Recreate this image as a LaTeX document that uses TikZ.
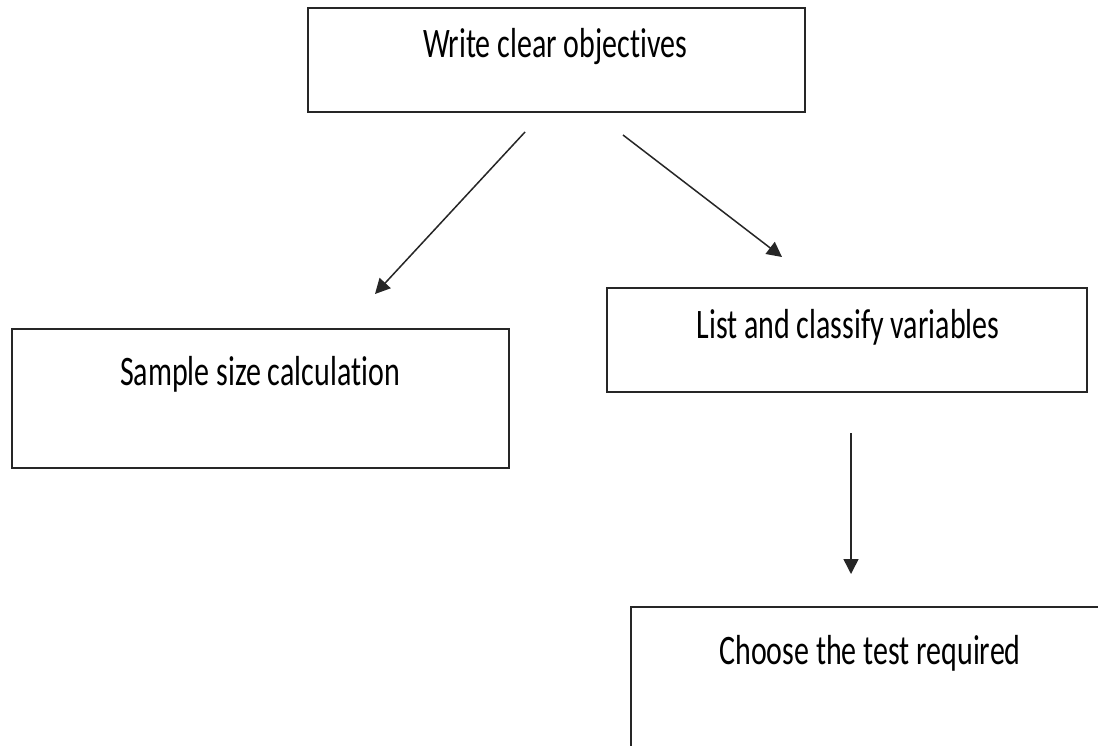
\documentclass[tikz,border=0pt]{standalone}
\usepackage{fontspec}
\setmainfont{Carlito}[Ligatures=NoCommon, RawFeature={-liga;-dlig;-clig}]
\usetikzlibrary{arrows.meta}
\tikzset{
  boxline/.style={line width=1.6pt, draw=black!85},
  lbl/.style={anchor=center, inner sep=0pt, font=\fontsize{30}{30}\selectfont},
  arr/.style={draw=black!85, line width=1.5pt, -{Triangle[length=15pt,width=15pt]}},
}
\newcommand{\tall}[1]{\scalebox{1}[1.4]{#1}}
\begin{document}
\begin{tikzpicture}[x=1pt,y=-1pt]
\useasboundingbox (0,0) rectangle (1098,745);
\clip (0,0) rectangle (1098,745);
\fill[white] (0,0) rectangle (1098,745);
% boxes
\draw[boxline] (308,8) rectangle (805,112);
\node (b1) at (556.5,60) {};
\draw[boxline] (12,329) rectangle (509,468);
\node (b2) at (260.5,398) {};
\draw[boxline] (607,288) rectangle (1087,392);
\node (b3) at (847,340) {};
\draw[boxline] (631,607) rectangle (1120,780);
\node (b4) at (875,690) {};
% labels
\node[lbl] (t1) at (555,47) {\tall{Write clear objec\kern0pt tives}};
\node[lbl] (t2) at (260,374) {\tall{Sample size calcula\kern0pt tion}};
\node[lbl] (t3) at (848,327) {\tall{List and classify variables}};
\node[lbl] (t4) at (870,653) {\tall{Choose the test required}};
% connector ends
\coordinate (s1) at (525,132);
\coordinate (e1) at (375,294);
\coordinate (s2) at (623,135);
\coordinate (e2) at (782,257);
\coordinate (s3) at (851,433);
\coordinate (e3) at (851,574);
\draw[arr] (s1) -- (e1);
\draw[arr] (s2) -- (e2);
\draw[arr] (s3) -- (e3);
\end{tikzpicture}
\end{document}
